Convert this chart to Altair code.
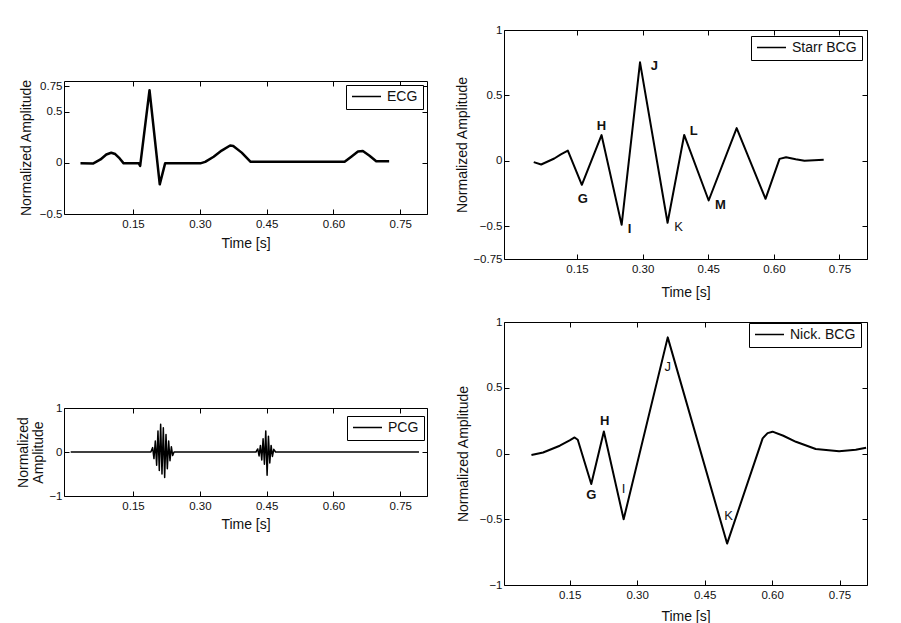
import altair as alt
import pandas as pd

FONT = "Liberation Sans"
XTICKS = [0.15, 0.30, 0.45, 0.60, 0.75]

# ---------------- data ----------------
ecg_t = [0.032, 0.060, 0.077, 0.090, 0.101, 0.110, 0.120, 0.129, 0.163, 0.166,
         0.187, 0.210, 0.222, 0.301, 0.312, 0.331, 0.349, 0.368, 0.375, 0.394,
         0.414, 0.625, 0.640, 0.655, 0.666, 0.681, 0.696, 0.725]
ecg_v = [-0.005, -0.007, 0.033, 0.082, 0.099, 0.086, 0.043, -0.005, -0.005, -0.03,
         0.71, -0.21, -0.005, -0.005, 0.01, 0.06, 0.12, 0.17, 0.165, 0.10,
         0.01, 0.01, 0.06, 0.11, 0.115, 0.07, 0.016, 0.016]

pcg_t = [0.010, 0.190, 0.194, 0.197, 0.200, 0.203, 0.206, 0.209, 0.212, 0.215,
         0.218, 0.221, 0.224, 0.227, 0.230, 0.233, 0.236, 0.239, 0.242,
         0.426, 0.430, 0.433, 0.436, 0.439, 0.442, 0.445, 0.448, 0.451, 0.454,
         0.457, 0.460, 0.463, 0.466, 0.470, 0.792]
pcg_v = [0.0, 0.0, 0.10, -0.15, 0.25, -0.30, 0.48, -0.42, 0.63, -0.50,
         0.55, -0.58, 0.40, -0.38, 0.25, -0.20, 0.12, -0.08, 0.0,
         0.0, 0.07, -0.09, 0.15, -0.18, 0.30, -0.28, 0.48, -0.53, 0.36,
         -0.25, 0.15, -0.10, 0.06, 0.0, 0.0]

starr_t = [0.051, 0.068, 0.098, 0.113, 0.129, 0.161, 0.206, 0.252, 0.294, 0.357,
           0.395, 0.451, 0.515, 0.581, 0.613, 0.628, 0.650, 0.670, 0.714]
starr_v = [-0.01, -0.028, 0.018, 0.05, 0.078, -0.183, 0.197, -0.489, 0.753, -0.473,
           0.198, -0.303, 0.25, -0.29, 0.015, 0.028, 0.012, 0.0, 0.008]

nick_t = [0.065, 0.091, 0.128, 0.150, 0.161, 0.168, 0.198, 0.226, 0.270, 0.368,
          0.500, 0.579, 0.590, 0.601, 0.625, 0.653, 0.697, 0.749, 0.786, 0.809]
nick_v = [-0.012, 0.008, 0.059, 0.10, 0.122, 0.105, -0.232, 0.168, -0.50, 0.883,
          -0.685, 0.115, 0.155, 0.166, 0.135, 0.089, 0.034, 0.018, 0.028, 0.043]

starr_lab = ["G", "H", "I", "J", "K", "L", "M"]
starr_lab_t = [0.163, 0.206, 0.270, 0.327, 0.382, 0.417, 0.478]
starr_lab_v = [-0.29, 0.265, -0.524, 0.727, -0.506, 0.231, -0.336]
starr_lab_bold = [True, True, True, True, False, True, True]

nick_lab = ["G", "H", "I", "J", "K"]
nick_lab_t = [0.198, 0.228, 0.270, 0.368, 0.503]
nick_lab_v = [-0.318, 0.25, -0.267, 0.654, -0.476]
nick_lab_bold = [True, True, False, False, False]


def series_df(t, v, name):
    return pd.DataFrame({"t": t, "v": v, "series": name})


def label_df(lab, t, v, bold):
    return pd.DataFrame({"label": lab, "t": t, "v": v, "bold": bold})


def panel(df, xdom, ydom, yticks, w, h, ytitle, ytpad, xtpad, lw, leg_xy, ann=None):
    xs = alt.Scale(domain=xdom, nice=False, zero=False)
    ys = alt.Scale(domain=ydom, nice=False, zero=False)
    common = dict(offset=-5, tickSize=5, tickColor="black", tickWidth=1,
                  domain=False, grid=False,
                  labelFont=FONT, labelFontSize=11.5, labelColor="#111",
                  titleFont=FONT, titleFontSize=14, titleFontWeight="normal",
                  titleColor="#111")
    inner = dict(offset=-5, tickSize=5, tickColor="black", tickWidth=1,
                 domain=False, grid=False, labels=False, title=None)
    line = alt.Chart(df).mark_line(strokeWidth=lw, strokeJoin="round").encode(
        x=alt.X("t:Q", scale=xs,
                axis=alt.Axis(orient="bottom", values=XTICKS, format=".2f",
                              title="Time [s]", labelPadding=4,
                              titlePadding=xtpad, **common)),
        y=alt.Y("v:Q", scale=ys,
                axis=alt.Axis(orient="left", values=yticks, format=".2~f",
                              title=ytitle, labelPadding=2, titlePadding=ytpad,
                              titleLineHeight=15, **common)),
        color=alt.Color("series:N", scale=alt.Scale(range=["black"]),
                        legend=alt.Legend(title=None, orient="none",
                                          legendX=leg_xy[0], legendY=leg_xy[1],
                                          padding=5, strokeColor="black",
                                          fillColor="white", symbolType="stroke",
                                          symbolSize=841, symbolStrokeWidth=1.5,
                                          clipHeight=13,
                                          labelFont=FONT, labelFontSize=14,
                                          labelColor="#111", labelOffset=5,
                                          cornerRadius=0)),
    )
    frame = alt.Chart(df).mark_line(strokeOpacity=0).encode(
        x=alt.X("t:Q", scale=xs, axis=alt.Axis(orient="top", values=XTICKS, **inner)),
        y=alt.Y("v:Q", scale=ys, axis=alt.Axis(orient="right", values=yticks, **inner)),
    )
    layers = [line, frame]
    if ann is not None:
        for flag, weight in [(True, "bold"), (False, "normal")]:
            sub = ann[ann["bold"] == flag]
            if len(sub):
                layers.append(
                    alt.Chart(sub).mark_text(font=FONT, fontSize=13, fontWeight=weight,
                                             color="#111").encode(
                        x=alt.X("t:Q", scale=xs, axis=None),
                        y=alt.Y("v:Q", scale=ys, axis=None),
                        text="label:N"))
    return alt.layer(*layers).resolve_axis(x="independent", y="independent").properties(
        width=w, height=h)


def spacer(h):
    return alt.Chart(pd.DataFrame({"t": [0]})).mark_point(opacity=0).encode(
        x=alt.X("t:Q", axis=None), y=alt.Y("t:Q", axis=None)
    ).properties(width=10, height=h, view=alt.ViewBackground(strokeOpacity=0))


ecg = panel(series_df(ecg_t, ecg_v, "ECG"), [-0.005, 0.81], [-0.5, 0.8],
            [-0.5, 0, 0.5, 0.75], 363, 133, "Normalized Amplitude", 6, 7, 2.5, (282, 4))
pcg = panel(series_df(pcg_t, pcg_v, "PCG"), [-0.005, 0.81], [-1, 1],
            [-1, 0, 1], 363, 88, ["Normalized", "Amplitude"], 3, 6, 1.5, (283, 8))
starr = panel(series_df(starr_t, starr_v, "Starr BCG"), [-0.017, 0.813], [-0.75, 1],
              [-0.75, -0.5, 0, 0.5, 1], 363, 229, "Normalized Amplitude", 3, 11, 2,
              (247, 6), label_df(starr_lab, starr_lab_t, starr_lab_v, starr_lab_bold))
nick = panel(series_df(nick_t, nick_v, "Nick. BCG"), [0.004, 0.811], [-1, 1],
             [-1, -0.5, 0, 0.5, 1], 363, 263, "Normalized Amplitude", 9, 9, 2,
             (245, 1), label_df(nick_lab, nick_lab_t, nick_lab_v, nick_lab_bold))

left = alt.vconcat(spacer(51), ecg, spacer(194), pcg, spacing=0, bounds="flush").resolve_scale(
    color="independent")
right = alt.vconcat(starr, nick, spacing=63, bounds="flush").resolve_scale(color="independent")

chart = alt.hconcat(left, right, spacing=27).resolve_scale(color="independent").properties(
    padding={"left": 8, "top": 15, "right": 5, "bottom": 5},
    background="white",
).configure_view(stroke="black", strokeWidth=1)

chart.save("out.html", embed_options={"renderer": "svg", "actions": False})
